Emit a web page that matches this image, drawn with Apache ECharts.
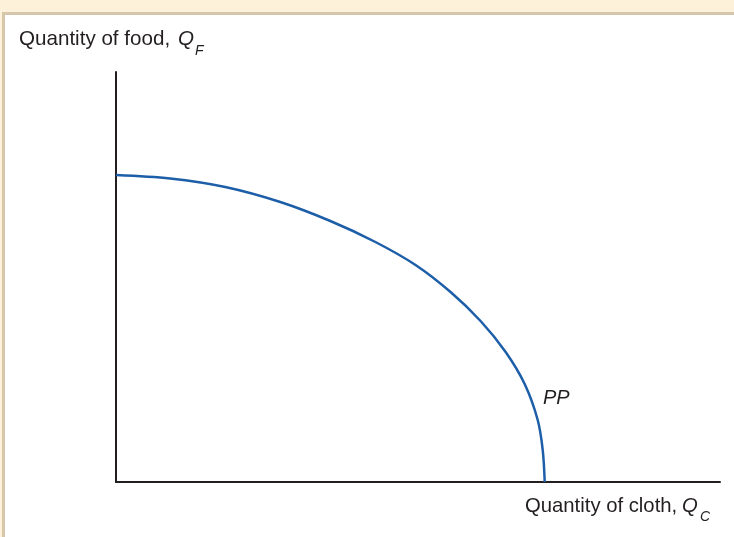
<!DOCTYPE html>
<html>
<head>
<meta charset="utf-8">
<script src="https://cdn.jsdelivr.net/npm/echarts@6/dist/echarts.min.js"></script>
<style>
	html, body { margin: 0; padding: 0; background: #fdf1da; }
	#main { width: 734px; height: 537px; }
</style>
</head>
<body>
<div id="main"></div>
<script>
// production possibility frontier (axis units 0-100)
var clothQty = [0, 8.96, 18.08, 27.20, 35.49, 42.95, 49.59, 55.39, 60.36, 64.51, 67.66, 69.82, 70.65, 70.98];
var foodQty  = [74.88, 74.02, 71.95, 68.29, 63.66, 58.54, 52.93, 46.34, 39.27, 31.71, 23.90, 15.12, 7.80, 0];

var yAxisName = 'Quantity of food, ';
var xAxisName = 'Quantity of cloth, ';
var curveName = 'PP';

var ink = '#231f20';
var font = '"Liberation Sans", Arial, sans-serif';

var myChart = echarts.init(document.getElementById('main'));

var points = [];
for (var i = 0; i < clothQty.length; i++) {
	points.push([clothQty[i], foodQty[i]]);
}

var options = {
	animation: false,
	backgroundColor: 'transparent',
	grid: {
		left: 116,
		right: 14,
		top: 72,
		bottom: 55
	},
	xAxis: {
		type: 'value',
		min: 0,
		max: 100,
		axisLine: { show: true, lineStyle: { color: ink, width: 2 } },
		axisTick: { show: false },
		axisLabel: { show: false },
		splitLine: { show: false }
	},
	yAxis: {
		type: 'value',
		min: 0,
		max: 100,
		axisLine: { show: true, lineStyle: { color: ink, width: 2 } },
		axisTick: { show: false },
		axisLabel: { show: false },
		splitLine: { show: false }
	},
	series: [{
		name: curveName,
		type: 'line',
		data: points,
		smooth: 0.33,
		showSymbol: false,
		lineStyle: { color: '#1d5ea8', width: 2.5 },
		z: 3
	}],
	graphic: [
		// frame: cream band with tan rule on top and left
		{ type: 'rect', z: -10, shape: { x: 0, y: 0, width: 734, height: 537 }, style: { fill: '#fdf1da' } },
		{ type: 'rect', z: -9, shape: { x: 2, y: 12, width: 732, height: 525 }, style: { fill: '#d6c6ab' } },
		{ type: 'rect', z: -8, shape: { x: 5, y: 15, width: 729, height: 522 }, style: { fill: '#ffffff' } },
		// axis titles
		{ type: 'text', left: 19, top: 29, style: { text: yAxisName, font: '20.6px ' + font, fill: ink } },
		{ type: 'text', left: 178, top: 29, style: { text: 'Q', font: 'italic 20.6px ' + font, fill: ink } },
		{ type: 'text', left: 195, top: 44, style: { text: 'F', font: 'italic 14px ' + font, fill: ink } },
		{ type: 'text', left: 525, top: 496, style: { text: xAxisName, font: '20.3px ' + font, fill: ink } },
		{ type: 'text', left: 682, top: 496, style: { text: 'Q', font: 'italic 20.3px ' + font, fill: ink } },
		{ type: 'text', left: 700, top: 510, style: { text: 'C', font: 'italic 14px ' + font, fill: ink } },
		// curve label
		{ type: 'text', left: 543, top: 388, style: { text: curveName, font: 'italic 20px ' + font, fill: ink } }
	]
};

myChart.setOption(options, true);
</script>
</body>
</html>
